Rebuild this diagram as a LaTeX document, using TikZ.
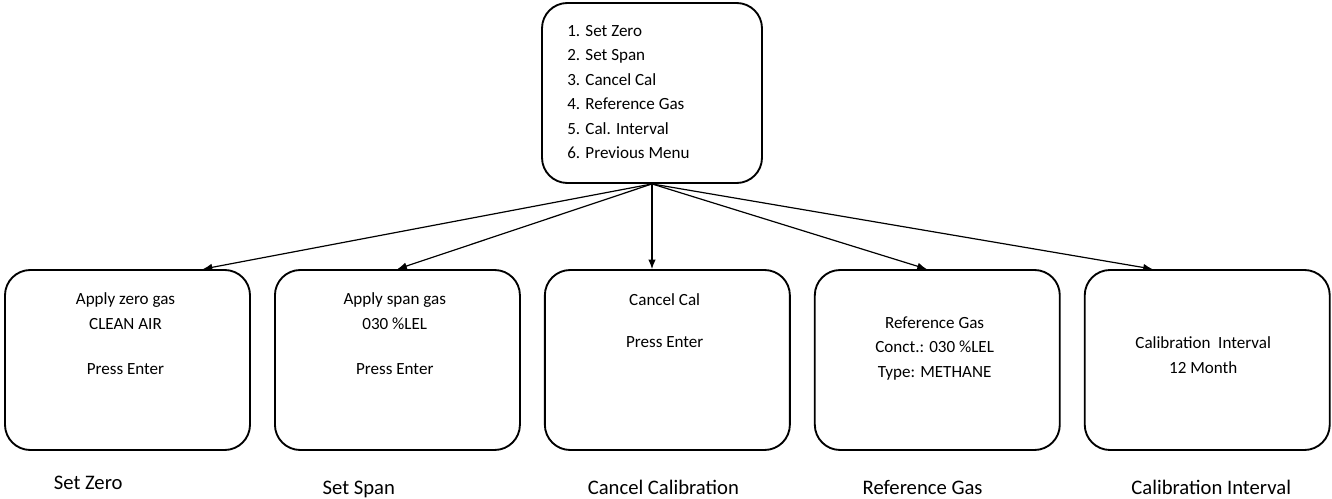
\documentclass[tikz,border=0pt]{standalone}
\usepackage{fontspec}
\setmainfont{Carlito}
\usepackage{tikz}
\usetikzlibrary{arrows.meta, positioning, calc}

\begin{document}
\begin{tikzpicture}[>={Latex[length=7pt, width=5.5pt]}, x=0.75pt, y=-0.75pt, node distance=17.3pt]

% --- Style Definitions ---
% Menu box (top)
\tikzstyle{menu_node}=[rectangle, rounded corners=19pt, draw=black, line width=1.4pt, minimum width=165pt, minimum height=135pt]
% Screen boxes (bottom row)
\tikzstyle{screen_node}=[rectangle, rounded corners=19pt, draw=black, line width=1.4pt, minimum width=183.75pt, minimum height=135pt]
% Text inside the boxes
\tikzstyle{txt_node}=[inner sep=0pt, font=\fontsize{12.8}{18.4}\selectfont]
% Captions under the boxes
\tikzstyle{caption_node}=[inner sep=0pt, anchor=base, font=\fontsize{15.5}{18}\selectfont]

% Arrow Styles
\tikzstyle{menu_arrow}=[->, line width=0.9pt, black]

\useasboundingbox (0,0) rectangle (1332,499);

% --- 1. Top: Calibration Menu ---
\node[menu_node] (Menu) at (652,93) {};
\node[txt_node, align=left, anchor=north west] (Menu_txt) at ([xshift=19.5pt, yshift=-17pt]Menu.north west)
  {1. Set Zero\\2. Set Span\\3. Cancel Cal\\4. Reference Gas\\5. Cal. Interval\\6. Previous Menu};

% --- 2. Bottom Row: Screens ---
\node[screen_node] (Zero) at (127.5,360) {};
\node[screen_node, right=of Zero] (Span) {};
\node[screen_node, right=of Span] (Cancel) {};
\node[screen_node, right=of Cancel] (Ref) {};
\node[screen_node, right=of Ref] (Interval) {};

% Screen texts
\node[txt_node, align=center, anchor=north] (Zero_txt) at ([xshift=-1.5pt, yshift=-17.5pt]Zero.north)
  {Apply zero gas\\CLEAN AIR\\[16pt]Press Enter};
\node[txt_node, align=center, anchor=north] (Span_txt) at ([xshift=-2pt, yshift=-17.5pt]Span.north)
  {Apply span gas\\030 \%LEL\\[16pt]Press Enter};
\node[txt_node, align=center, anchor=north] (Cancel_txt) at ([xshift=-2pt, yshift=-18.5pt]Cancel.north)
  {Cancel Cal\\[13pt]Press Enter};
\node[txt_node, align=center, anchor=north] (Ref_txt) at ([xshift=-2pt, yshift=-35.5pt]Ref.north)
  {Reference Gas\\Conct.: 030 \%LEL\\Type: METHANE};
\node[txt_node, align=center, anchor=north] (Interval_txt) at ([xshift=-3pt, yshift=-50.5pt]Interval.north)
  {Calibration~~Interval\\12 Month};

% Draw menu arrows
\draw[menu_arrow] (Menu.south) -- ([xshift=56.6pt]Zero.north);
\draw[menu_arrow] (Menu.south) -- (Span.north);
\draw[menu_arrow] (Menu.south) -- (Menu.south |- Cancel.north);
\draw[menu_arrow] (Menu.south) -- ([xshift=-8pt]Ref.north);
\draw[menu_arrow] (Menu.south) -- ([xshift=-41pt]Interval.north);

% --- 3. Captions ---
\node[caption_node] (Zero_cap) at ([xshift=-29.5pt, yshift=-29pt]Zero.south) {Set Zero};
\node[caption_node] (Span_cap) at ([xshift=-29pt, yshift=-33pt]Span.south) {Set Span};
\node[caption_node] (Cancel_cap) at ([xshift=-3pt, yshift=-33pt]Cancel.south) {Cancel Calibration};
\node[caption_node] (Ref_cap) at ([xshift=-11pt, yshift=-33pt]Ref.south) {Reference Gas};
\node[caption_node] (Interval_cap) at ([xshift=3pt, yshift=-33pt]Interval.south) {Calibration Interval};

\end{tikzpicture}
\end{document}
